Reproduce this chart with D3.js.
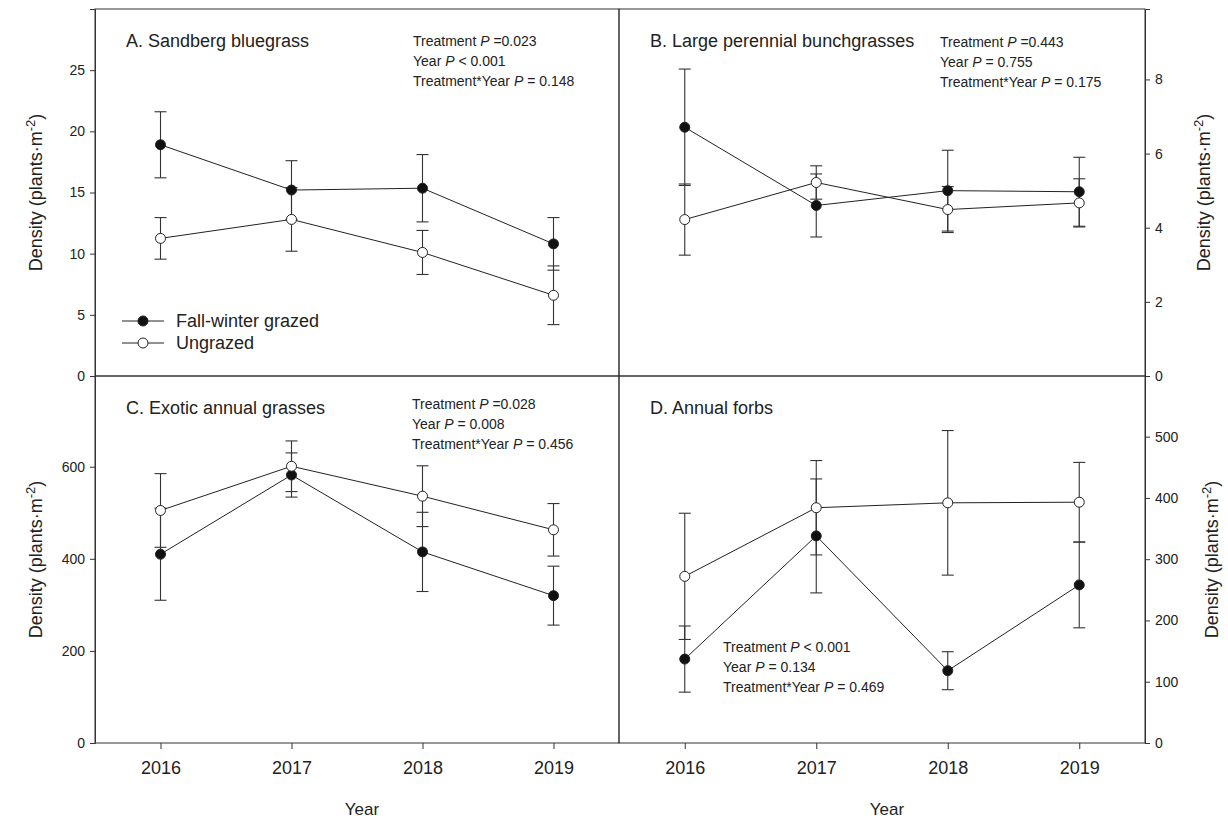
<!DOCTYPE html>
<html lang="en">
  <head>
    <meta charset="UTF-8" />
    <script src="https://d3js.org/d3.v7.min.js"></script>
    <title>Density by year</title>
    <style>
      body { margin: 0; background: #fff; }
      svg { font-family: "Liberation Sans", Arial, sans-serif; }
      .tick text { fill: #222; }
    </style>
  </head>
  <body>
    <svg id="chart" width="1228" height="820"></svg>
    <script>
      // data: means and standard errors
      const years = [2016, 2017, 2018, 2019];

      const grazedA = [18.9, 15.2, 15.35, 10.8];
      const grazedSeA = [2.7, 2.4, 2.75, 2.15];
      const ungrazedA = [11.25, 12.8, 10.1, 6.6];
      const ungrazedSeA = [1.7, 2.6, 1.8, 2.4];

      const grazedB = [6.71, 4.6, 5.0, 4.97];
      const grazedSeB = [1.57, 0.85, 1.09, 0.93];
      const ungrazedB = [4.22, 5.22, 4.49, 4.67];
      const ungrazedSeB = [0.96, 0.45, 0.62, 0.65];

      const grazedC = [410, 582, 415, 320];
      const grazedSeC = [100, 48, 86, 64];
      const ungrazedC = [505, 601, 536, 463];
      const ungrazedSeC = [80, 55, 66, 57];

      const grazedD = [137, 338, 118, 258];
      const grazedSeD = [54, 93, 31, 70];
      const ungrazedD = [272, 384, 392, 393];
      const ungrazedSeD = [103, 77, 118, 65];

      const ticksA = [0, 5, 10, 15, 20, 25];
      const ticksB = [0, 2, 4, 6, 8];
      const ticksC = [0, 200, 400, 600];
      const ticksD = [0, 100, 200, 300, 400, 500];

      const seriesNames = ["Fall-winter grazed", "Ungrazed"];

      const svg = d3.select("#chart");
      const ink = "#222";

      const panels = [
        {
          title: "A. Sandberg bluegrass", x0: 95, x1: 619, y0: 9, y1: 376,
          max: 30, ticks: ticksA, side: "left",
          g: grazedA, gse: grazedSeA, u: ungrazedA, use: ungrazedSeA,
          stats: [["Treatment ", "P", " =0.023"], ["Year ", "P", " < 0.001"], ["Treatment*Year ", "P", " = 0.148"]],
          statsX: 413, statsY: 46, legend: true
        },
        {
          title: "B. Large perennial bunchgrasses", x0: 619, x1: 1145, y0: 9, y1: 376,
          max: 9.9, ticks: ticksB, side: "right",
          g: grazedB, gse: grazedSeB, u: ungrazedB, use: ungrazedSeB,
          stats: [["Treatment ", "P", " =0.443"], ["Year ", "P", " = 0.755"], ["Treatment*Year ", "P", " = 0.175"]],
          statsX: 940, statsY: 47
        },
        {
          title: "C. Exotic annual grasses", x0: 95, x1: 619, y0: 376, y1: 743,
          max: 797, ticks: ticksC, side: "left", xaxis: true,
          g: grazedC, gse: grazedSeC, u: ungrazedC, use: ungrazedSeC,
          stats: [["Treatment ", "P", " =0.028"], ["Year ", "P", " = 0.008"], ["Treatment*Year ", "P", " = 0.456"]],
          statsX: 412, statsY: 409
        },
        {
          title: "D. Annual forbs", x0: 619, x1: 1145, y0: 376, y1: 743,
          max: 599, ticks: ticksD, side: "right", xaxis: true,
          g: grazedD, gse: grazedSeD, u: ungrazedD, use: ungrazedSeD,
          stats: [["Treatment ", "P", " < 0.001"], ["Year ", "P", " = 0.134"], ["Treatment*Year ", "P", " = 0.469"]],
          statsX: 723, statsY: 652
        }
      ];

      panels.forEach(function (p) {
        const x = d3.scaleLinear().domain([2015.5, 2019.5]).range([p.x0, p.x1]);
        const y = d3.scaleLinear().domain([0, p.max]).range([p.y1, p.y0]);
        const g = svg.append("g");

        // frame
        g.append("rect")
          .attr("x", p.x0).attr("y", p.y0)
          .attr("width", p.x1 - p.x0).attr("height", p.y1 - p.y0)
          .attr("fill", "none").attr("stroke", "#333").attr("stroke-width", 1);

        // y axis
        const yAxis = (p.side === "left" ? d3.axisLeft(y) : d3.axisRight(y))
          .tickValues(p.ticks).tickSize(5).tickPadding(5);
        const ya = g.append("g")
          .attr("transform", `translate(${p.side === "left" ? p.x0 : p.x1},0)`)
          .call(yAxis);
        ya.select(".domain").attr("stroke", "#333");
        ya.selectAll(".tick line").attr("stroke", "#333");
        ya.selectAll(".tick text").style("font-size", "14px");

        // y label
        const lx = p.side === "left" ? 36 : (p.y0 < 100 ? 1204 : 1212);
        const yl = g.append("text")
          .attr("transform", `translate(${lx},${(p.y0 + p.y1) / 2}) rotate(-90)`)
          .attr("text-anchor", "middle")
          .attr("dy", "0.35em")
          .style("font-size", "18px")
          .attr("fill", ink);
        yl.append("tspan").text("Density (plants·m");
        yl.append("tspan").attr("baseline-shift", "super").style("font-size", "13px").text("-2");
        yl.append("tspan").text(")");

        // x axis
        if (p.xaxis) {
          const xa = g.append("g")
            .attr("transform", `translate(0,${p.y1})`)
            .call(d3.axisBottom(x).tickValues(years).tickFormat(d3.format("d")).tickSize(6).tickPadding(12));
          xa.select(".domain").remove();
          xa.selectAll(".tick line").attr("stroke", "#333");
          xa.selectAll(".tick text").style("font-size", "18px");
          g.append("text")
            .attr("x", (p.x0 + p.x1) / 2 + 5)
            .attr("y", 815)
            .attr("text-anchor", "middle")
            .style("font-size", "17px")
            .attr("fill", ink)
            .text("Year");
        }

        // title
        g.append("text")
          .attr("x", p.x0 + 31).attr("y", p.y0 + 38)
          .style("font-size", "18px").attr("fill", ink)
          .text(p.title);

        // stats
        p.stats.forEach(function (line, i) {
          const t = g.append("text")
            .attr("x", p.statsX).attr("y", p.statsY + i * 20)
            .style("font-size", "14px").attr("fill", ink);
          t.append("tspan").text(line[0]);
          t.append("tspan").style("font-style", "italic").text(line[1]);
          t.append("tspan").text(line[2]);
        });

        const series = [
          { m: p.g, se: p.gse, fill: "#111" },
          { m: p.u, se: p.use, fill: "#fff" }
        ];

        // error bars
        series.forEach(function (s) {
          const eb = g.append("g").attr("stroke", "#333").attr("stroke-width", 1.1);
          years.forEach(function (yr, i) {
            const cx = x(yr);
            const hi = y(s.m[i] + s.se[i]);
            const lo = y(s.m[i] - s.se[i]);
            eb.append("line").attr("x1", cx).attr("x2", cx).attr("y1", hi).attr("y2", lo);
            eb.append("line").attr("x1", cx - 6).attr("x2", cx + 6).attr("y1", hi).attr("y2", hi);
            eb.append("line").attr("x1", cx - 6).attr("x2", cx + 6).attr("y1", lo).attr("y2", lo);
          });
        });

        // lines and markers
        const line = d3.line().x((d, i) => x(years[i])).y((d) => y(d));
        series.forEach(function (s) {
          g.append("path")
            .attr("d", line(s.m))
            .attr("fill", "none").attr("stroke", ink).attr("stroke-width", 1);
        });
        series.forEach(function (s) {
          g.selectAll(null)
            .data(s.m)
            .enter()
            .append("circle")
            .attr("cx", (d, i) => x(years[i]))
            .attr("cy", (d) => y(d))
            .attr("r", 5)
            .attr("fill", s.fill)
            .attr("stroke", ink)
            .attr("stroke-width", 1);
        });

        // legend
        if (p.legend) {
          const fills = ["#111", "#fff"];
          seriesNames.forEach(function (name, i) {
            const ly = 321 + i * 22;
            g.append("line").attr("x1", 122).attr("x2", 164).attr("y1", ly).attr("y2", ly)
              .attr("stroke", ink);
            g.append("circle").attr("cx", 143).attr("cy", ly).attr("r", 5)
              .attr("fill", fills[i]).attr("stroke", ink);
            g.append("text").attr("x", 176).attr("y", ly).attr("dy", "0.35em")
              .style("font-size", "18px").attr("fill", ink).text(name);
          });
        }
      });
    </script>
  </body>
</html>
